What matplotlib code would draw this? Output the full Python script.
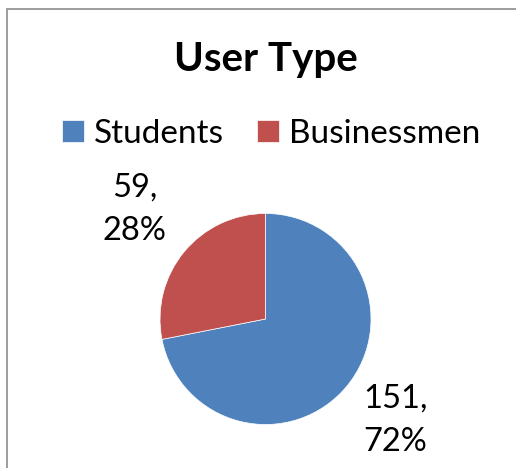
import matplotlib
matplotlib.use('Agg')
import matplotlib.pyplot as plt
from matplotlib.patches import Rectangle

# data
categories = ['Students', 'Businessmen']
counts = [151, 59]
colors = ['#4F81BD', '#C0504D']
title = 'User Type'

W, H = 516, 468
plt.rcParams['font.family'] = ['Lato', 'DejaVu Sans']

fig = plt.figure(figsize=(W / 100, H / 100), dpi=100)

# chart border (runs off the right and bottom edges)
fig.add_artist(Rectangle((7 / W, -0.1), 1.2, 1 - 9 / H + 0.1,
                         transform=fig.transFigure, fill=False,
                         edgecolor='#8c8c8c', linewidth=1.2))

# pie axes placed so centre and radius match the reference
cx, cy, r = 265.5, 319, 105.5
ax = fig.add_axes([(cx - r) / W, (H - cy - r) / H, 2 * r / W, 2 * r / H])
wedges, _ = ax.pie(counts, colors=colors, startangle=90, counterclock=False,
                   radius=1, wedgeprops=dict(edgecolor='white', linewidth=0.5))
ax.set_xlim(-1, 1)
ax.set_ylim(-1, 1)
ax.set_aspect('equal')
ax.axis('off')

total = sum(counts)
label_pos = [(1.23, -0.96), (-1.24, 1.04)]
for v, (x, y) in zip(counts, label_pos):
    ax.text(x, y, '%d,\n%d%%' % (v, round(100 * v / total)), ha='center',
            va='center', fontsize=23.5, linespacing=1.6, clip_on=False)

fig.text(cx / W, 1 - 60 / H, title, ha='center', va='center',
         fontsize=29, fontweight='bold')

fig.legend(wedges, categories, loc='center', bbox_to_anchor=(271 / W, 1 - 134 / H),
           ncol=2, frameon=False, fontsize=24, handlelength=0.65, handleheight=0.65,
           handletextpad=0.3, columnspacing=1.0, borderpad=0)

fig.savefig('out.png', dpi=100)
